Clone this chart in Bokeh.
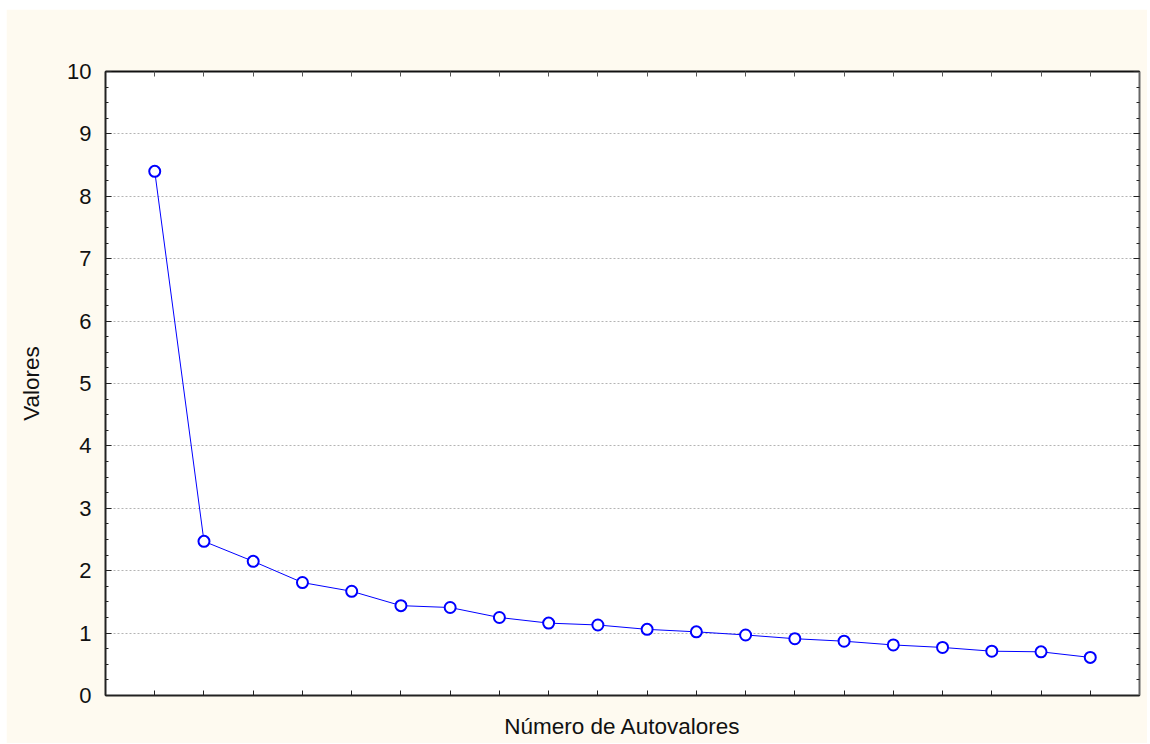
from bokeh.plotting import figure
from bokeh.models import (LinearAxis, FixedTicker, SingleIntervalTicker, Range1d,
                          ColumnDataSource)
from bokeh.embed import file_html
from bokeh.resources import INLINE

# Data
eigen_number = list(range(1, 21))
eigen_values = [8.40, 2.47, 2.15, 1.81, 1.67, 1.44, 1.41, 1.25, 1.16, 1.13,
                1.06, 1.02, 0.97, 0.91, 0.87, 0.81, 0.77, 0.71, 0.70, 0.61]
x_label = "Número de Autovalores"
y_label = "Valores"

CREAM = "#FEFAF0"
FONT = "Liberation Sans"

src = ColumnDataSource(dict(x=eigen_number, y=eigen_values))

p = figure(width=1141, height=734, output_backend="svg", toolbar_location=None,
           x_range=Range1d(0, 21), y_range=Range1d(0, 10),
           min_border_left=99, min_border_right=8, min_border_top=62,
           min_border_bottom=48, margin=(9, 0, 0, 6))
p.border_fill_color = CREAM
p.background_fill_color = "white"
p.outline_line_color = "black"
p.outline_line_width = 1

xt = FixedTicker(ticks=eigen_number, minor_ticks=[])
yt = SingleIntervalTicker(interval=1, num_minor_ticks=4)

# bottom axis
p.xaxis.ticker = xt
p.xaxis.axis_label = x_label
p.xaxis.axis_label_text_font = FONT
p.xaxis.axis_label_text_font_size = "22.5px"
p.xaxis.axis_label_text_font_style = "normal"
p.xaxis.axis_label_text_color = "#111111"
p.xaxis.axis_label_standoff = 18
p.xaxis.major_label_text_color = None
p.xaxis.major_label_standoff = 0
p.xaxis.major_tick_in = 5
p.xaxis.major_tick_out = 0
p.xaxis.minor_tick_line_color = None
p.xaxis.axis_line_width = 2
p.xaxis.axis_line_color = "#222222"
p.xaxis.major_tick_line_color = "#222222"

# left axis
p.yaxis.ticker = yt
p.yaxis.axis_label = y_label
p.yaxis.axis_label_text_font = FONT
p.yaxis.axis_label_text_font_size = "22.5px"
p.yaxis.axis_label_text_font_style = "normal"
p.yaxis.axis_label_text_color = "#111111"
p.yaxis.axis_label_standoff = 20
p.yaxis.major_label_text_font = FONT
p.yaxis.major_label_text_font_size = "22px"
p.yaxis.major_label_text_color = "#111111"
p.yaxis.major_label_standoff = 14
p.yaxis.major_tick_in = 6
p.yaxis.major_tick_out = 0
p.yaxis.minor_tick_in = 3
p.yaxis.minor_tick_out = 0
p.yaxis.axis_line_width = 2
p.yaxis.axis_line_color = "#222222"
p.yaxis.major_tick_line_color = "#222222"
p.yaxis.minor_tick_line_color = "#222222"

# top axis
top = LinearAxis(ticker=xt, major_label_text_color=None, major_label_standoff=0,
                 major_tick_in=5, major_tick_out=0, minor_tick_line_color=None,
                 axis_line_width=2, axis_line_color="#111111",
                 major_tick_line_color="#555555")
p.add_layout(top, "above")

# right axis
right = LinearAxis(ticker=yt, major_label_text_color=None, major_label_standoff=0,
                   major_tick_in=6, major_tick_out=0, minor_tick_in=3, minor_tick_out=0,
                   axis_line_width=2, axis_line_color="#666666",
                   major_tick_line_color="#222222", minor_tick_line_color="#222222")
p.add_layout(right, "right")

# grid
p.xgrid.grid_line_color = None
p.ygrid.ticker = yt
p.ygrid.grid_line_color = "#b4b4b4"
p.ygrid.grid_line_dash = "2 2"
p.ygrid.grid_line_width = 1

p.line("x", "y", source=src, line_color="#0000FF", line_width=1)
p.scatter("x", "y", source=src, marker="circle", size=11, fill_color="white",
          line_color="#0000FF", line_width=2)

open("out.html", "w").write(file_html(p, INLINE))
